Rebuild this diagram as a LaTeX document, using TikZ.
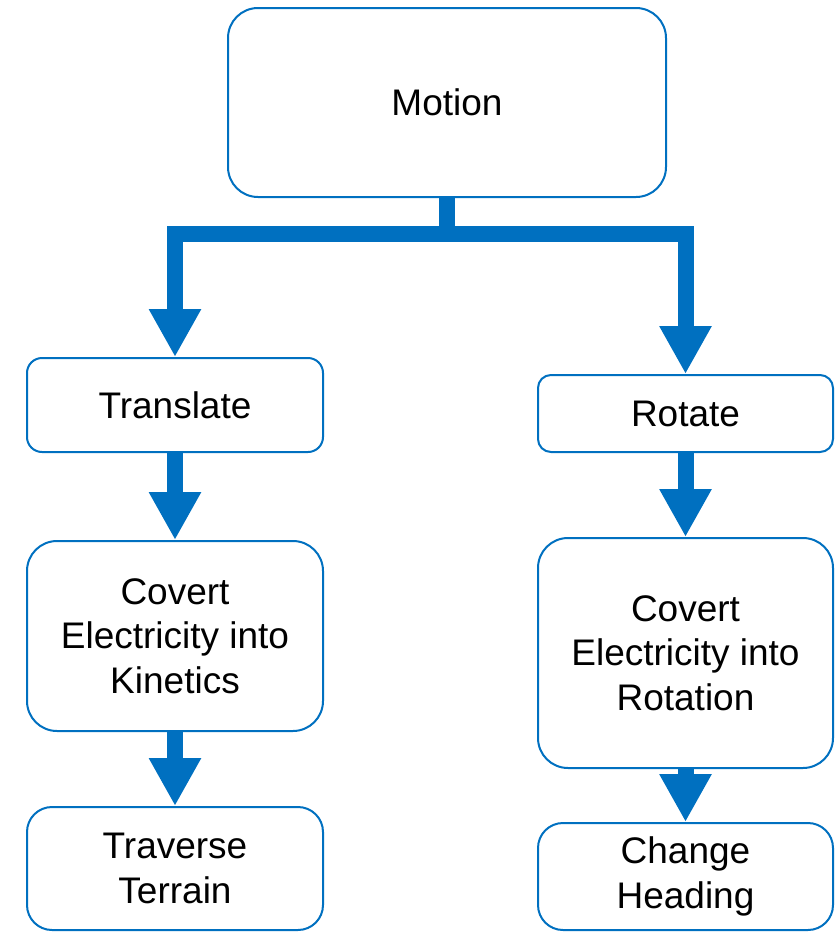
\documentclass[tikz,border=0pt]{standalone}
\usepackage{fontspec}
\setmainfont{Liberation Sans}
\usetikzlibrary{arrows.meta}
\definecolor{flowblue}{HTML}{0070C0}
\begin{document}
\begin{tikzpicture}[x=1pt,y=-1pt,
  box/.style={draw=flowblue, line width=2pt, fill=white, inner sep=0pt,
    align=center, text=black,
    font=\fontsize{37}{44.5}\selectfont},
  bigarrow/.style={draw=flowblue, line width=16pt, line join=miter,
    -{Triangle[width=49pt 0 0,length=48pt 0 0]}},
  stem/.style={draw=flowblue, line width=16pt}]
\useasboundingbox (0,0) rectangle (838,932);

% boxes
\node[box, rounded corners=30pt, minimum width=438pt, minimum height=189pt] (motion) at (447,102.5) {Motion};
\node[box, rounded corners=15pt, minimum width=296pt, minimum height=94pt] (translate) at (175,405) {Translate};
\node[box, rounded corners=13pt, minimum width=295pt, minimum height=77pt] (rotate) at (685.5,413.5) {Rotate};
\node[box, rounded corners=30pt, minimum width=296pt, minimum height=190pt] (covk) at (175,636) {Covert\\Electricity into\\Kinetics};
\node[box, rounded corners=30pt, minimum width=295pt, minimum height=230pt] (covr) at (685.5,653) {Covert\\Electricity into\\Rotation};
\node[box, rounded corners=25pt, minimum width=296pt, minimum height=123pt] (trav) at (175,868.5) {Traverse\\Terrain};
\node[box, rounded corners=25pt, minimum width=295pt, minimum height=107pt] (chg) at (685.5,876.5) {Change\\Heading};

% fork below the top box
\coordinate (fork) at (447,234);
\draw[stem] (motion.south) -- ([yshift=8pt]fork);
\draw[bigarrow] (fork) -| (translate.north);
\draw[bigarrow] (fork) -| (rotate.north);

% chains
\draw[bigarrow] (translate.south) -- (covk.north);
\draw[bigarrow] (covk.south) -- (trav.north);
\draw[bigarrow] (rotate.south) -- (covr.north);
\draw[bigarrow] (covr.south) -- (chg.north);
\end{tikzpicture}
\end{document}
